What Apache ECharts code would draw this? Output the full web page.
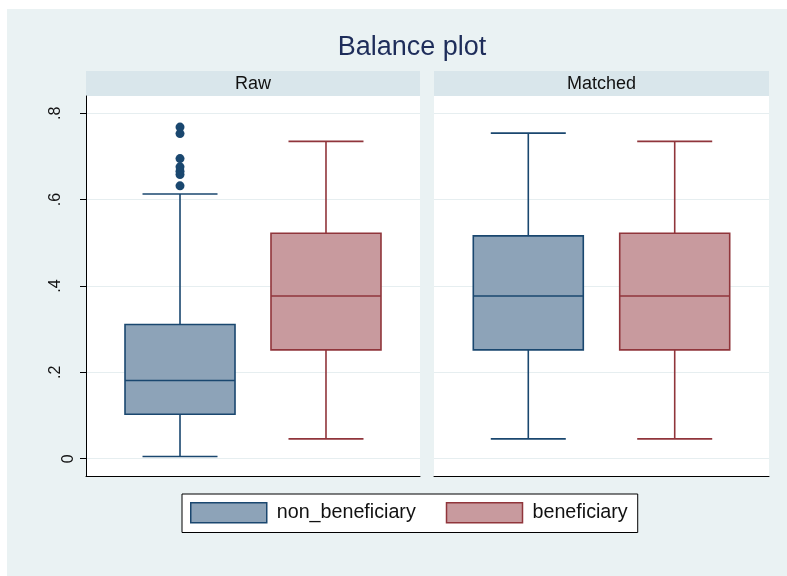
<!DOCTYPE html>
<html>
<head>
<meta charset="utf-8">
<title>Balance plot</title>
<script src="https://cdn.jsdelivr.net/npm/echarts@6/dist/echarts.min.js"></script>
<style>
  html, body { margin: 0; padding: 0; background: #ffffff; }
  #chart {
    width: 787px; height: 576px;
    background: #EAF2F3;
    box-shadow: inset 7px 9px 0 #ffffff;
  }
</style>
</head>
<body>
<div id="chart"></div>
<script>
// Panels and groups
const panels = ['Raw', 'Matched'];
const groups = ['non_beneficiary', 'beneficiary'];

// Box summaries: [lower whisker, Q1, median, Q3, upper whisker]
const rawNonBeneficiary = [0.005, 0.103, 0.181, 0.311, 0.613];
const rawBeneficiary = [0.046, 0.252, 0.377, 0.522, 0.735];
const matchedNonBeneficiary = [0.046, 0.252, 0.377, 0.516, 0.754];
const matchedBeneficiary = [0.046, 0.252, 0.377, 0.522, 0.735];

// Points beyond the upper whisker
const rawNonBeneficiaryOutliers = [0.632, 0.658, 0.666, 0.676, 0.695, 0.753, 0.768];

// Y axis ticks
const yTicks = [0, 0.2, 0.4, 0.6, 0.8];
const yTickLabels = ['0', '.2', '.4', '.6', '.8'];

const FONT = '"Liberation Sans", Arial, Helvetica, sans-serif';
const colors = {
  non_beneficiary: { fill: '#8DA3B8', stroke: '#1A476F' },
  beneficiary: { fill: '#C89A9E', stroke: '#90353B' }
};

const gridBoxes = [
  { left: 86, top: 96, width: 334, height: 380 },
  { left: 434, top: 96, width: 335, height: 380 }
];
const Y_MIN = -0.04, Y_MAX = 0.84;
const X_MIN = -0.644, X_MAX = 1.644;

function tickLabel(v) {
  const i = yTicks.findIndex(t => Math.abs(t - v) < 1e-9);
  return i >= 0 ? yTickLabels[i] : '';
}

function boxRenderer(fill, stroke) {
  const BOX_W = 110, CAP_W = 75, LW = 1.6;
  return function (params, api) {
    const x = api.value(0);
    const lo = api.coord([x, api.value(1)]);
    const q1 = api.coord([x, api.value(2)]);
    const md = api.coord([x, api.value(3)]);
    const q3 = api.coord([x, api.value(4)]);
    const hi = api.coord([x, api.value(5)]);
    const cx = lo[0];
    const ls = () => ({ stroke: stroke, lineWidth: LW, fill: null });
    return {
      type: 'group',
      children: [
        { type: 'line', shape: { x1: cx, y1: q3[1], x2: cx, y2: hi[1] }, style: ls() },
        { type: 'line', shape: { x1: cx, y1: q1[1], x2: cx, y2: lo[1] }, style: ls() },
        { type: 'line', shape: { x1: cx - CAP_W / 2, y1: hi[1], x2: cx + CAP_W / 2, y2: hi[1] }, style: ls() },
        { type: 'line', shape: { x1: cx - CAP_W / 2, y1: lo[1], x2: cx + CAP_W / 2, y2: lo[1] }, style: ls() },
        { type: 'rect', shape: { x: cx - BOX_W / 2, y: q3[1], width: BOX_W, height: q1[1] - q3[1] },
          style: { fill: fill, stroke: stroke, lineWidth: LW } },
        { type: 'line', shape: { x1: cx - BOX_W / 2, y1: md[1], x2: cx + BOX_W / 2, y2: md[1] }, style: ls() }
      ]
    };
  };
}

function boxSeries(name, gridIdx, yAxisIdx, xPos, summary) {
  const c = colors[name];
  return {
    type: 'custom',
    name: name,
    xAxisIndex: gridIdx,
    yAxisIndex: yAxisIdx,
    renderItem: boxRenderer(c.fill, c.stroke),
    encode: { x: 0, y: [1, 2, 3, 4, 5] },
    itemStyle: { color: c.fill, borderColor: c.stroke },
    data: [[xPos].concat(summary)],
    silent: true
  };
}

const chart = echarts.init(document.getElementById('chart'), null, { renderer: 'canvas' });

const headerGraphics = [];
panels.forEach((p, i) => {
  const g = gridBoxes[i];
  headerGraphics.push({
    type: 'rect',
    shape: { x: g.left, y: 71, width: g.width, height: 25 },
    style: { fill: '#D9E6EB' }
  });
  headerGraphics.push({
    type: 'text',
    x: g.left + g.width / 2,
    y: 84.5,
    style: { text: p, fill: '#111111', font: '18px ' + FONT, align: 'center', verticalAlign: 'middle' }
  });
});

const option = {
  animation: false,
  textStyle: { fontFamily: FONT },
  title: {
    text: 'Balance plot',
    left: 412,
    top: 34,
    padding: 0,
    textAlign: 'center',
    textStyle: { fontSize: 27, fontWeight: 'normal', color: '#1E2D5A', fontFamily: FONT }
  },
  graphic: headerGraphics,
  legend: {
    left: 182,
    top: 494,
    orient: 'horizontal',
    selectedMode: false,
    icon: 'rect',
    itemWidth: 76,
    itemHeight: 20,
    itemGap: 30,
    padding: [8, 10, 9, 8],
    backgroundColor: '#ffffff',
    borderColor: '#000000',
    borderWidth: 1,
    textStyle: { fontSize: 19.7, color: '#111111', fontFamily: FONT, padding: [2, 0, 0, 5] },
    data: groups.map(g => ({
      name: g,
      itemStyle: { color: colors[g].fill, borderColor: colors[g].stroke, borderWidth: 1.5 }
    }))
  },
  grid: gridBoxes.map(g => ({
    left: g.left, top: g.top, width: g.width, height: g.height,
    show: true, backgroundColor: '#ffffff', borderWidth: 0, containLabel: false
  })),
  xAxis: gridBoxes.map((g, i) => ({
    type: 'value',
    gridIndex: i,
    min: X_MIN,
    max: X_MAX,
    axisLine: { show: true, onZero: false, lineStyle: { color: '#000000', width: 1 } },
    axisTick: { show: false },
    axisLabel: { show: false },
    splitLine: { show: false }
  })),
  yAxis: [
    {
      type: 'value', gridIndex: 0, position: 'left', min: Y_MIN, max: Y_MAX,
      axisLine: { show: true, onZero: false, lineStyle: { color: '#000000', width: 1 } },
      axisTick: { show: true, length: 6, customValues: yTicks, lineStyle: { color: '#000000', width: 1 } },
      axisLabel: {
        customValues: yTicks.slice(1), rotate: 90, margin: 22,
        fontSize: 16, color: '#111111', fontFamily: FONT, formatter: tickLabel
      },
      splitLine: { show: true, lineStyle: { color: '#E6EEF0', width: 1 } }
    },
    {
      type: 'value', gridIndex: 0, position: 'left', min: Y_MIN, max: Y_MAX,
      axisLine: { show: false, onZero: false },
      axisTick: { show: false },
      axisLabel: {
        customValues: [yTicks[0]], rotate: 90, margin: 9,
        fontSize: 16, color: '#111111', fontFamily: FONT, formatter: tickLabel
      },
      splitLine: { show: false }
    },
    {
      type: 'value', gridIndex: 1, position: 'left', min: Y_MIN, max: Y_MAX,
      axisLine: { show: false, onZero: false },
      axisTick: { show: false, customValues: yTicks },
      axisLabel: { show: false },
      splitLine: { show: true, lineStyle: { color: '#E6EEF0', width: 1 } }
    }
  ],
  series: [
    boxSeries(groups[0], 0, 0, 0, rawNonBeneficiary),
    boxSeries(groups[1], 0, 0, 1, rawBeneficiary),
    boxSeries(groups[0], 1, 2, 0, matchedNonBeneficiary),
    boxSeries(groups[1], 1, 2, 1, matchedBeneficiary),
    {
      type: 'scatter',
      name: groups[0],
      xAxisIndex: 0,
      yAxisIndex: 0,
      symbol: 'circle',
      symbolSize: 9,
      itemStyle: { color: colors.non_beneficiary.stroke, opacity: 1 },
      data: rawNonBeneficiaryOutliers.map(v => [0, v]),
      silent: true,
      z: 3
    }
  ]
};

chart.setOption(option);
</script>
</body>
</html>
